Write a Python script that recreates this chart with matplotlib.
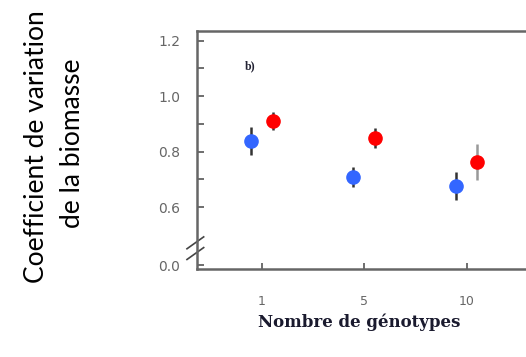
import matplotlib
matplotlib.use("Agg")
import matplotlib.pyplot as plt
import numpy as np

genotypes = ["1", "5", "10"]
blue_cv = [0.838, 0.709, 0.676]
blue_err = [0.05, 0.035, 0.049]
red_cv = [0.91, 0.848, 0.763]
red_err = [0.032, 0.036, 0.066]
red_err_colors = ["#333333", "#333333", "#999999"]

ytick_vals = [0.39, 0.6, 0.8, 1.0, 1.2]
ytick_labels = ["0.0", "0.6", "0.8", "1.0", "1.2"]

fig = plt.figure(figsize=(5.26, 3.57), dpi=100)
ax = fig.add_axes([197 / 526, 88 / 357, 334 / 526, 238 / 357])

x = np.arange(len(genotypes))
off = 0.105
ax.errorbar(x - off, blue_cv, yerr=blue_err, fmt='o', color='#3366ff',
            ecolor='#333333', elinewidth=1.8, capsize=0, markersize=9.5, zorder=3)
for xi, yi, ei, ci in zip(x + off, red_cv, red_err, red_err_colors):
    ax.errorbar(xi, yi, yerr=ei, fmt='o', color='#ff0000', ecolor=ci,
                elinewidth=1.8, capsize=0, markersize=9.5, zorder=3)

ax.set_xlim(-0.634, 2.63)
ax.set_ylim(0.377, 1.235)
ax.set_xticks(x)
ax.set_xticklabels(genotypes)
ax.set_yticks(ytick_vals)
ax.set_yticklabels(ytick_labels)
ax.set_yticks([0.7, 0.9, 1.1], minor=True)
ax.tick_params(axis='both', which='both', direction='in', color='#555555',
               labelcolor='#666666', labelsize=10, width=1.2)
ax.tick_params(axis='y', which='both', length=5, pad=12)
ax.tick_params(axis='x', length=4, pad=19, labelsize=9)
for s in ax.spines.values():
    s.set_color('#666666')
    s.set_linewidth(1.8)
ax.spines['right'].set_visible(False)

# axis break marks
for dy in (0.0, 0.045):
    ax.plot([-0.03, 0.02], [0.04 + dy, 0.09 + dy], transform=ax.transAxes,
            color='#444444', lw=1.2, clip_on=False)

ax.text(-0.117, 1.106, "b)", fontsize=8.5, fontweight='bold', family='Liberation Serif',
        color='#222233', ha='center', va='center')

fig.text(359 / 526, 1 - 322 / 357, "Nombre de génotypes", fontsize=12,
         fontweight='bold', family='DejaVu Serif', color='#1a1a2e',
         ha='center', va='center')
fig.text(37 / 526, 1 - 147 / 357, "Coefficient de variation", rotation=90,
         fontsize=19, family='Lato', ha='center', va='center')
fig.text(72 / 526, 1 - 143 / 357, "de la biomasse", rotation=90,
         fontsize=19, family='Lato', ha='center', va='center')

fig.savefig("out.png", dpi=100)
